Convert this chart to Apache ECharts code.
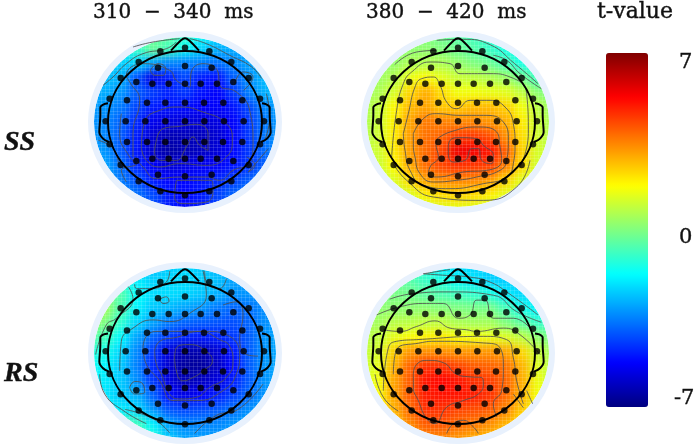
<!DOCTYPE html>
<html><head><meta charset="utf-8">
<style>html,body{margin:0;padding:0;background:#fff}#c{width:697px;height:446px}</style>
<script src="https://cdn.jsdelivr.net/npm/echarts@6/dist/echarts.min.js"></script></head>
<body><div id="c"></div>
<script>
// scalp sampling positions (1 unit = 1/3 px)
const scalpX=[-288,-240,-192,-144,-96,-48,0,48,96,144,192,240,288];
const scalpY=[-264,-220,-176,-132,-88,-44,0,44,88,132,176,220,264];
const panelTitles=['310\u00a0\u00a0−\u00a0\u00a0340\u00a0\u00a0ms','380\u00a0\u00a0−\u00a0\u00a0420\u00a0\u00a0ms'];
const rowNames=['SS','RS'];
const scaleTicks=['7','0','-7'];
const scaleName='t-value';
// t-values, rows top to bottom
const ss310=[
[-1.5,-1.5,-1.5,-1,-0.5,-0.5,-1,-1.6,-2.2,-2.4,-2.4,-2.4,-2.4],
[-1.5,-1.5,-1.5,-1,-0.3,-0.8,-1.6,-2.3,-2.8,-2.9,-2.9,-2.9,-2.9],
[-2.4,-2.4,-2.4,-2.3,-3,-3.4,-3.5,-3.5,-3.7,-3.4,-3,-2.7,-2.7],
[-2.6,-2.6,-2.8,-4.2,-5.6,-4.9,-4.3,-4.9,-5.1,-4,-3.3,-2.7,-2.5],
[-2.9,-2.9,-3.2,-4,-4.4,-4.8,-4.5,-5,-5.3,-4.5,-3.5,-2.8,-2.7],
[-3.1,-3.2,-3.6,-4.3,-4.9,-5,-5.1,-5.3,-5.3,-5,-4.3,-3.4,-3],
[-3.2,-3.4,-3.9,-4.7,-5.5,-5.7,-5.8,-5.8,-5.7,-5.3,-4.5,-3.6,-3.1],
[-3.1,-3.4,-4,-4.9,-5.9,-6.3,-6.2,-6.2,-5.9,-5.3,-4.5,-3.6,-3.1],
[-3,-3.2,-4,-5,-6,-6.5,-6.3,-6.1,-5.8,-5.2,-4.5,-3.8,-3.1],
[-2.8,-3,-3.7,-4.7,-5.3,-5.8,-5.6,-5.4,-5.3,-5,-4.5,-4,-3.1],
[-2.5,-2.9,-3.6,-4.1,-4.9,-5.2,-5.2,-5,-4.7,-4.4,-4,-3.3,-2.8],
[-2.4,-2.7,-3.1,-3.7,-4.2,-4.9,-5.2,-4.9,-4.4,-3.9,-3.3,-2.9,-2.7],
[-2.4,-2.7,-3.1,-3.7,-4.2,-4.9,-5.2,-4.9,-4.4,-3.9,-3.3,-2.9,-2.7]];
const ss380=[
[0,0,0,0,0,-0.3,-0.6,-0.9,-1.2,-1.4,-1.4,-1.4,-1.4],
[0,0,0,0.2,0.2,0,-0.3,-0.6,-1,-1.4,-1.6,-1.6,-1.6],
[0.2,0.2,0.3,0.6,0.7,0.6,0.3,0,-0.3,-0.8,-1.4,-1.6,-1.6],
[0.3,0.4,0.7,1.5,1.8,1.4,1,0.9,0.7,0.4,-0.2,-0.9,-1.1],
[0.4,0.6,1.2,2.3,2.9,2.2,1.6,1.6,1.5,1.4,0.9,0.2,-0.2],
[0.5,0.9,1.8,2.7,3,2.5,2.5,2.7,2.7,2.4,1.6,0.8,0.3],
[0.5,1,1.9,3,3.6,3.5,3.4,3.4,3.2,2.9,2,1,0.5],
[0.6,1.1,2,3.1,3.7,3.9,4.4,4.5,4.2,3.3,2.2,1.1,0.6],
[0.7,1.1,2,3.1,3.8,4.3,5.5,5.4,5,4,2.4,1.2,0.7],
[0.7,1,1.8,2.9,3.8,4.3,4.6,4.5,4.4,3.5,2.2,1.1,0.6],
[0.6,0.8,1.3,2.2,3,3.3,3.4,3.4,3.1,2.3,1.4,0.9,0.6],
[0.5,0.6,0.8,1.3,1.9,2.2,2.3,2.2,1.9,1.4,0.9,0.6,0.5],
[0.4,0.5,0.6,0.7,1,1.3,1.4,1.3,1,0.7,0.6,0.5,0.4]];
const rs310=[
[-3,-3,-3,-2.8,-2.7,-2.5,-2.3,-2.5,-2.8,-3,-3.1,-3.1,-3.1],
[-1.3,-1.3,-1.5,-2,-2.4,-2.3,-2.2,-2.4,-2.6,-3,-3.1,-3.1,-3.1],
[0,0,-0.6,-1.7,-2.2,-2.2,-2.3,-2.5,-2.8,-3.2,-3.2,-3.2,-3.2],
[0.7,0.5,-0.7,-1.9,-2.5,-2.7,-3,-3.2,-3.6,-3.9,-3.7,-3.3,-3],
[0.5,0,-1.1,-2.3,-3,-3.6,-3.9,-4,-4.1,-4.2,-3.9,-3.3,-3],
[-0.4,-0.8,-1.8,-3,-3.9,-4.5,-4.8,-4.9,-4.8,-4.5,-4,-3.2,-2.9],
[-1.2,-1.5,-2.3,-3.4,-4.5,-5.7,-6.4,-6.4,-5.9,-5,-4,-3.2,-2.9],
[-1.6,-1.9,-2.5,-3.5,-4.7,-5.9,-6.6,-6.6,-6.1,-5.2,-4,-3.2,-2.9],
[-1.8,-2,-2.5,-3.3,-4.5,-5.7,-6.3,-6.1,-5.7,-4.9,-4,-3.2,-2.9],
[-1.8,-2.1,-2.5,-2.8,-3.9,-5.1,-5.6,-5.3,-4.9,-4.4,-3.8,-3.2,-2.9],
[-1.6,-1.9,-2,-2.3,-3.2,-4.1,-4.3,-4.2,-4,-3.7,-3.3,-3,-2.8],
[-1,-0.8,-0.6,-0.9,-1.9,-3,-3.4,-3.4,-3.4,-3.2,-2.9,-2.8,-2.8],
[-0.5,-0.5,-0.3,-0.3,-1.3,-2.5,-3,-3.1,-3.1,-3.1,-2.9,-2.8,-2.8]];
const rs380=[
[-0.5,-0.5,-0.6,-1,-1.5,-2,-2.3,-2.4,-2.5,-2.5,-2.4,-2.2,-2.2],
[-0.3,-0.3,-0.4,-0.6,-1,-1.4,-1.8,-2.1,-2.4,-2.5,-2.4,-2.2,-2.2],
[0,-0.1,-0.1,-0.2,-0.5,-0.7,-0.9,-1.1,-1.4,-2,-2.3,-2.2,-2.1],
[0.3,0.2,0.2,0.2,0.2,0.1,0,-0.1,-0.1,-0.8,-1.5,-1.9,-1.9],
[0.5,0.5,0.8,0.8,0.9,0.9,0.6,0.5,0.5,0,-0.5,-1,-1.2],
[0.7,0.9,1.4,1.7,1.9,2,1.7,1.6,1.5,1.3,0.9,0.2,-0.2],
[0.8,1.2,2.4,3.2,3.3,3.3,3.2,3.2,3.2,3,2.3,1,0.4],
[0.9,1.4,2.8,3.9,4.6,4.6,4.3,4,3.9,3.7,2.8,1.3,0.7],
[1,1.6,3,4,5,5.2,5,4.6,4.4,3.9,2.9,1.5,0.8],
[1.1,1.7,3,4,4.9,5,5,4.9,4.6,3.8,2.8,1.6,1],
[1.2,1.7,2.8,3.8,4.6,4.6,4.3,4.2,4,3.4,2.5,1.6,1.1],
[1.3,1.6,2.4,3.4,4,4.1,3.8,3.6,3.3,2.8,2.1,1.5,1.2],
[1.3,1.5,2,2.8,3.4,3.4,3.2,2.9,2.6,2.2,1.8,1.4,1.2]];
// electrode montage
const electrodes=[[0,-223],[-74,-212],[73,-212],[-139,-180],[139,-180],[0,-168],[-81,-163],[80,-163],
[-193,-132],[191,-132],[-146,-120],[145,-120],[-98,-115],[-49,-115],[0,-115],[47,-115],[96,-115],
[-226,-70],[225,-70],[-174,-65],[172,-65],[-114,-58],[-59,-58],[0,-58],[57,-58],[115,-58],
[-238,-2],[-178,-2],[-119,-2],[-59,-2],[0,-2],[58,-2],[117,-2],[176,-2],[237,-2],
[-174,60],[-114,60],[-59,60],[0,60],[58,60],[114,60],[172,60],[-226,67],[225,67],
[-98,110],[-49,110],[0,110],[47,110],[96,110],[-146,117],[145,117],[-193,129],[191,129],
[-81,158],[80,158],[0,163],[-139,178],[139,178],[-74,208],[73,208],[0,220]];
const noseLine=[[-42,-214],[-12,-245],[0,-251],[12,-245],[42,-214]];
const earLeft=[[-231,-56],[-244,-53],[-254,-44],[-254,-20],[-257,30],[-246,50],[-228,60]];
const earRight=[[231,-56],[244,-53],[254,-44],[254,-20],[257,30],[246,50],[228,60]];
const contoursSS310=[
[[-86,55],[-66,20],[-16,13],[34,7],[69,35],[69,85],[44,70],[24,45],[4,75],[-26,115],[-71,115],[-91,90],[-86,55]],
[[-131,75],[-121,0],[-76,-35],[-16,-45],[54,-30],[124,5],[142,55],[124,105],[64,130],[-16,125],[-76,135],[-116,115],[-131,75]],
[[-156,105],[-156,35],[-136,-65],[-166,-120],[-176,-140],[-126,-175],[-46,-155],[-26,-125],[14,-105],[19,-150],[54,-175],[99,-150],[104,-110],[154,-90],[194,-35],[204,65],[189,125],[144,145],[104,175],[64,165],[-16,165],[-86,170],[-126,135],[-151,105]],
[[-104,-155],[-81,-175],[-58,-160],[-66,-140],[-91,-140],[-104,-155]],
[[-246,-110],[-216,-135],[-176,-175],[-126,-205],[-56,-220],[-26,-240]],
[[-156,-225],[-96,-240],[-16,-250]],
[[14,-250],[64,-235],[134,-200],[200,-165],[230,-130]],
[[-191,-25],[-196,35],[-166,105],[-146,125],[-191,145],[-176,180]],
[[149,-115],[174,-150],[204,-135],[176,-95]],
[[244,-85],[254,-15],[239,55]],
[[-26,175],[-31,225],[-6,245],[64,240],[84,205],[79,175],[-26,175]],
[[-260,55],[-215,80],[-200,125]],
[[185,105],[210,130],[190,150],[250,80]]];
const contoursSS380=[
[[-29,75],[-24,55],[6,47],[56,50],[76,70],[106,100],[101,125],[71,115],[61,80],[41,80],[21,115],[-14,120],[-29,95],[-29,75]],
[[-62,50],[-24,30],[56,15],[116,30],[126,75],[131,115],[86,145],[16,150],[-64,165],[-89,160],[-84,135],[-59,105],[-66,65],[-62,50]],
[[-134,35],[-104,-10],[-64,-25],[6,-20],[76,-20],[136,0],[151,55],[146,115],[126,145],[56,165],[-4,175],[-74,180],[-114,155],[-129,105],[-134,65],[-134,35]],
[[-164,35],[-149,-25],[-129,-105],[-109,-130],[-74,-135],[-54,-110],[-34,-60],[-4,-40],[36,-65],[96,-65],[141,-45],[166,5],[171,65],[166,125],[146,165],[76,185],[-24,200],[-104,190],[-144,145],[-159,85],[-164,35]],
[[-199,105],[-184,-35],[-164,-115],[-139,-150],[-84,-180],[-24,-175],[6,-145],[96,-145],[156,-135],[206,-85],[211,35],[186,135]],
[[106,-200],[146,-185],[186,-145],[250,-100]],
[[-190,-172],[-124,-210],[-64,-215]],
[[-64,-245],[16,-248],[96,-232],[170,-175],[240,-115]],
[[-194,125],[-154,175],[-74,225],[76,235],[176,195],[216,115]]];
const contoursRS310=[
[[-31,18],[-26,-12],[14,-22],[69,3],[82,28],[54,58],[24,78],[-6,88],[-26,58],[-31,18]],
[[-91,-2],[-76,-32],[-26,-44],[44,-62],[104,-37],[134,-17],[144,28],[124,78],[74,108],[34,138],[-16,143],[-46,128],[-71,68],[-86,38],[-91,-2]],
[[-126,-12],[-116,-47],[-81,-62],[-6,-62],[64,-62],[124,-52],[164,8],[154,68],[114,118],[34,148],[-36,148],[-76,88],[-116,38],[-126,-12]],
[[-196,58],[-191,-32],[-156,-72],[-96,-97],[-46,-92],[14,-117],[64,-172],[54,-247]],
[[114,-142],[154,-152],[174,-112],[164,-42],[184,8],[219,13]],
[[-166,108],[-151,90],[-126,98],[-121,123],[-151,128],[-166,108]],
[[-76,-160],[-56,-167],[-48,-154],[-66,-147],[-76,-160]],
[[-151,-205],[-146,-192],[-106,-192],[-56,-212],[-46,-245]],
[[59,-245],[64,-212],[104,-192],[124,-222]],
[[-256,68],[-241,128],[-180,182],[-116,218]],
[[-170,-198],[-156,-162],[-206,-102],[-236,-82],[-268,8]],
[[-180,175],[-96,203],[-46,246]],
[[29,248],[94,193],[154,178],[234,98]]];
const contoursRS380=[
[[-134,68],[-124,38],[-89,26],[-44,33],[-4,68],[36,76],[71,78],[76,98],[61,128],[16,148],[-34,168],[-69,218],[-94,203],[-119,148],[-134,108],[-134,68]],
[[-194,68],[-184,-7],[-114,-27],[-64,-32],[76,-27],[126,-12],[136,48],[131,118],[106,158],[116,198]],
[[-224,118],[-209,-12],[-184,-32],[-124,-37],[76,-47],[146,-37],[166,18],[176,88],[196,158]],
[[-224,-67],[-174,-62],[-124,-77],[-69,-94],[-24,-72],[26,-67],[56,-62],[136,-72],[186,-52],[246,8]],
[[-244,-112],[-174,-137],[-94,-147],[-44,-147],[1,-102],[36,-112],[56,-157],[81,-157],[106,-102],[166,-102],[216,-72]],
[[-205,-160],[-134,-177],[-24,-182],[106,-172],[176,-122],[250,-90]],
[[-104,-237],[-24,-250]],
[[-104,-237],[-34,-232],[36,-227],[96,-212],[146,-182],[240,-112]],
[[-34,248],[-14,218],[16,208],[46,228],[61,248]],
[[206,118],[224,158]],[[166,128],[196,170]],
[[-249,68],[-224,138],[-179,180]]];

const panels=[
 {cx:185,cy:122,values:ss310,contours:contoursSS310},
 {cx:458,cy:122,values:ss380,contours:contoursSS380},
 {cx:185,cy:353,values:rs310,contours:contoursRS310},
 {cx:458,cy:353,values:rs380,contours:contoursRS380}];
const W=697,H=446,SERIF='"DejaVu Serif",serif',ITAL='"Liberation Serif",serif';
const gridW=208,gridH=scalpY.length*44/3;
const grid=[],xAxis=[],yAxis=[],series=[],holes=[];
const heatIdx=[];
const ellipsePath=(cx,cy,rx,ry)=>`M${cx-rx} ${cy}A${rx} ${ry} 0 1 0 ${cx+rx} ${cy}A${rx} ${ry} 0 1 0 ${cx-rx} ${cy}Z`;
const pathSeries=(pathData,box,z,style)=>({type:'custom',coordinateSystem:'none',data:[0],zlevel:1,z,silent:true,clip:false,
  renderItem:()=>({type:'path',shape:Object.assign({pathData,layout:'cover'},box),style})});
const lattice=interval=>({interval,zlevel:1,z:0,axisLine:{show:false},axisTick:{show:false},axisLabel:{show:false},
  splitLine:{show:true,lineStyle:{color:'rgba(255,255,255,0.13)',width:1}}});
panels.forEach((p,i)=>{
  const box={left:p.cx-gridW/2,top:p.cy-gridH/2,width:gridW,height:gridH};
  grid.push(Object.assign({},box,{show:false}),Object.assign({},box,{show:false}));
  xAxis.push({type:'category',gridIndex:2*i,data:scalpX,show:false},
             Object.assign({type:'value',gridIndex:2*i+1,min:-312,max:312},lattice(12)));
  yAxis.push({type:'category',gridIndex:2*i,data:scalpY,inverse:true,show:false},
             Object.assign({type:'value',gridIndex:2*i+1,min:-286,max:286,inverse:true},lattice(11)));
  const cells=[];
  p.values.forEach((row,r)=>row.forEach((v,c)=>cells.push([c,r,v])));
  heatIdx.push(series.length);
  series.push({type:'heatmap',xAxisIndex:2*i,yAxisIndex:2*i,data:cells,zlevel:0,silent:true,
    itemStyle:{borderWidth:0}});
  p.contours.forEach(c=>series.push({type:'line',xAxisIndex:2*i+1,yAxisIndex:2*i+1,data:c,smooth:0.5,
    symbol:'none',clip:false,zlevel:1,z:5,silent:true,lineStyle:{color:'#505050',width:1,opacity:.85}}));
  [noseLine,earLeft,earRight].forEach(c=>series.push({type:'line',xAxisIndex:2*i+1,yAxisIndex:2*i+1,data:c,smooth:0.3,
    symbol:'none',clip:false,zlevel:1,z:6,silent:true,lineStyle:{color:'#000',width:2}}));
  series.push({type:'scatter',xAxisIndex:2*i+1,yAxisIndex:2*i+1,data:electrodes,symbol:'circle',symbolSize:6.5,
    clip:false,zlevel:1,z:8,silent:true,itemStyle:{color:'#000'}});
  holes.push(ellipsePath(p.cx,p.cy,91,85));
  series.push(pathSeries(ellipsePath(p.cx,p.cy,94,88),{x:p.cx-94,y:p.cy-88,width:188,height:176},2,{fill:null,stroke:'#e8f1fd',lineWidth:6}));
  series.push(pathSeries(ellipsePath(p.cx,p.cy,77,71),{x:p.cx-77,y:p.cy-71,width:154,height:142},7,{fill:null,stroke:'#000',lineWidth:2}));
});
series.push(pathSeries(`M0 0H${W}V${H}H0Z`+holes.join(''),{x:0,y:0,width:W,height:H},1,{fill:'#fff'}));
const txt=(text,left,top,size,extra)=>({text,left,top,zlevel:1,z:10,padding:0,
  textStyle:Object.assign({fontFamily:SERIF,fontSize:size,fontWeight:'normal',color:'#111',textBorderColor:'#111',textBorderWidth:0.4},extra||{})});
const titles=[
 txt(panelTitles[0],93,3,20),
 txt(panelTitles[1],366,3,20),
 txt(rowNames[0],4,129,28,{fontFamily:ITAL,fontStyle:'italic',fontWeight:'bold'}),
 txt(rowNames[1],4,360,28,{fontFamily:ITAL,fontStyle:'italic',fontWeight:'bold'}),
 txt(scaleName,597,1,22),
 txt(scaleTicks[0],679,52,21),
 txt(scaleTicks[1],679,227,21),
 txt(scaleTicks[2],674,388,21)];
const chart=echarts.init(document.getElementById('c'),null,{renderer:'canvas',width:W,height:H});
chart.setOption({animation:false,backgroundColor:'#fff',title:titles,grid,xAxis,yAxis,series,
 visualMap:{type:'continuous',min:-7,max:7,seriesIndex:heatIdx,left:606,top:53,itemWidth:42,itemHeight:354,
  padding:0,calculable:false,hoverLink:false,realtime:false,zlevel:1,z:10,
  inRange:{color:['#000080','#0000ff','#0080ff','#00ffff','#80ff80','#ffff00','#ff8000','#ff0000','#800000']}}
});
const base=document.querySelector('canvas[data-zr-dom-id="zr_0"]');
if(base)base.style.filter='blur(5px)';
</script></body></html>
